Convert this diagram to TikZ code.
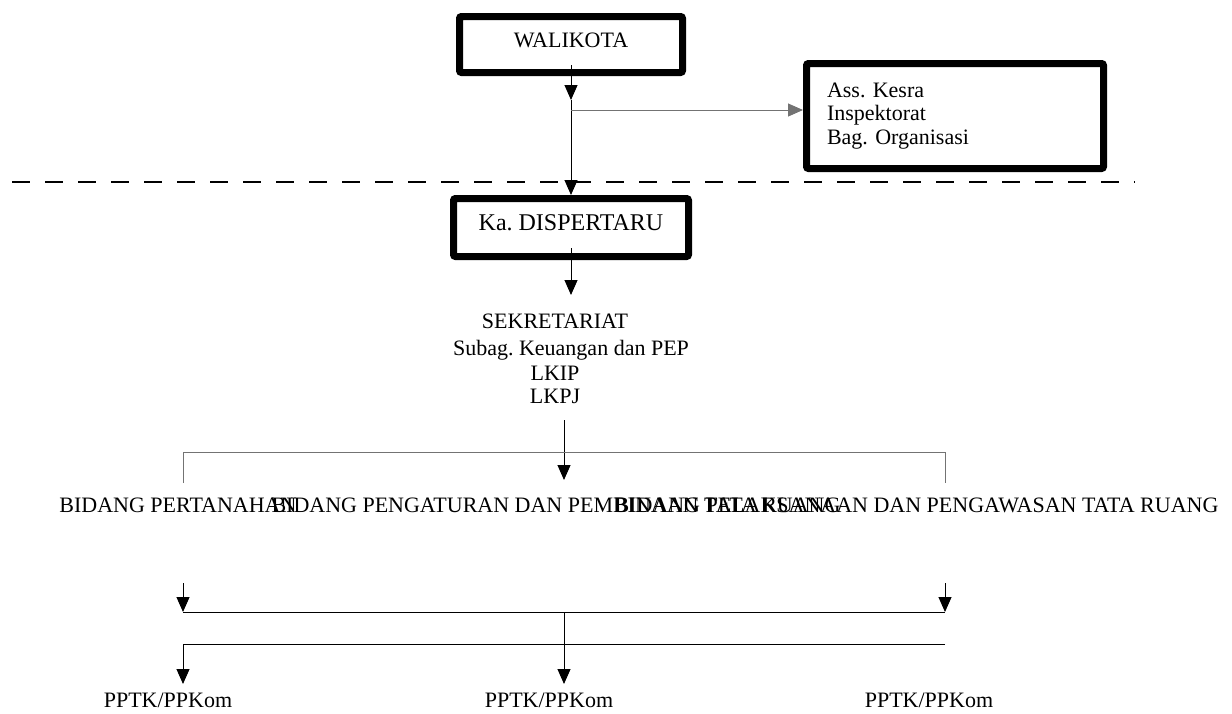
\documentclass[tikz,border=0pt]{standalone}
\usepackage{fontspec}
\setmainfont{Liberation Serif}
\usetikzlibrary{arrows.meta}
\frenchspacing

\begin{document}
\begin{tikzpicture}[x=1pt,y=-1pt,line width=1pt]
\tikzstyle{every node}+=[inner sep=0pt]
\tikzstyle{heavybox}=[draw=black,line width=7pt,rounded corners=2pt]
\tikzstyle{lbl}=[font=\fontsize{22}{23.5}\selectfont]
\tikzstyle{arrowline}=[-{Triangle[length=15pt,width=13pt]}]
\tikzstyle{grayline}=[draw=black!55]
\useasboundingbox (0,0) rectangle (1232,713);
\node [heavybox,lbl,minimum width=223pt,minimum height=56pt,text depth=9pt] (walikota) at (571,44.5) {WALIKOTA};
\node [heavybox,lbl,minimum width=297pt,minimum height=105pt,text width=256pt,align=left] (kesra) at (955,116) {Ass. Kesra\\Inspektorat\\Bag. Organisasi};
\node [heavybox,font=\fontsize{24}{26}\selectfont,minimum width=235pt,minimum height=58pt,text depth=9pt] (kadis) at (571,227.5) {Ka. DISPERTARU};
\node [lbl,anchor=base] (sekre) at (555,328) {SEKRETARIAT};
\node [lbl,anchor=base] (subag) at (571,355) {Subag. Keuangan dan PEP};
\node [lbl,anchor=base] (lkip) at (555,380) {LKIP};
\node [lbl,anchor=base] (lkpj) at (555,403) {LKPJ};
\node [lbl,anchor=base] (pertanahan) at (178,512) {BIDANG PERTANAHAN};
\node [lbl,anchor=base west] (pengaturan) at (271,512) {BIDANG PENGATURAN DAN PEMBINAAN TATA RUANG};
\node [lbl,anchor=base east] (pelaksanaan) at (1219,512) {BIDANG PELAKSANAAN DAN PENGAWASAN TATA RUANG};
\node [lbl,anchor=base] (pptka) at (168,707) {PPTK/PPKom};
\node [lbl,anchor=base] (pptkb) at (549,707) {PPTK/PPKom};
\node [lbl,anchor=base] (pptkc) at (929,707) {PPTK/PPKom};
\coordinate (wtip) at (571,100);
\coordinate (wfork) at (571,110);
\coordinate (ktip) at (571,295);
\coordinate (sstart) at (564,420);
\coordinate (stip) at (564,480);
\coordinate (bl) at (183,483);
\coordinate (br) at (945,483);
\coordinate (la) at (183,583);
\coordinate (ra) at (945,583);
\coordinate (lj) at (183,612);
\coordinate (mj) at (564,612);
\coordinate (rj) at (945,612);
\coordinate (l2) at (183,644);
\coordinate (r2) at (945,644);
\coordinate (lt) at (183,684);
\coordinate (mt) at (564,684);
\draw [dash pattern=on 18pt off 15pt,line width=1.2pt] (12,182) -- (1135,182);
\draw [arrowline] ([yshift=-20.5pt]walikota.center) -- (wtip);
\draw [arrowline] (wtip) -- (kadis.north);
\draw [grayline,arrowline] (wfork) -- (wfork -| kesra.west);
\draw [arrowline] ([yshift=-20.5pt]kadis.center) -- (ktip);
\draw [arrowline] (sstart) -- (stip);
\draw [grayline] (bl) -- ++(0,-31) -| (br);
\draw [arrowline] (la) -- (lj);
\draw [arrowline] (ra) -- (rj);
\draw (lj) -- (rj);
\draw [arrowline] (mj) -- (mt);
\draw (r2) -- (l2);
\draw [arrowline] (l2) -- (lt);
\end{tikzpicture}
\end{document}
